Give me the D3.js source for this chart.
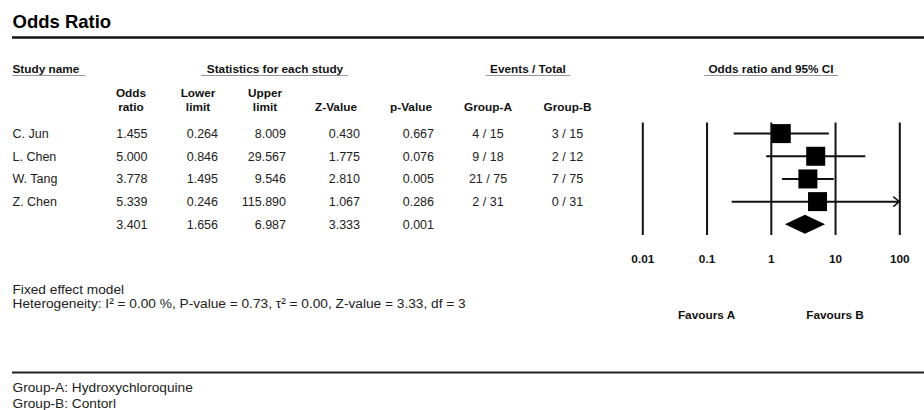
<!DOCTYPE html>
<html>
<head>
<meta charset="utf-8">
<script src="https://cdn.jsdelivr.net/npm/d3@7"></script>
<style>
  body { margin: 0; background: #fff; }
  svg { font-family: "Liberation Sans", Arial, sans-serif; display: block; }
  .hd { font-weight: bold; font-size: 11.8px; fill: #111; }
  .cell { font-size: 12.5px; fill: #222; }
  .note { font-size: 13.7px; fill: #222; }
</style>
</head>
<body>
<div id="chart"></div>
<script>
// study level data
const studies = ["C. Jun", "L. Chen", "W. Tang", "Z. Chen"];
const oddsRatio = [1.455, 5.000, 3.778, 5.339];
const lowerLimit = [0.264, 0.846, 1.495, 0.246];
const upperLimit = [8.009, 29.567, 9.546, 115.890];
const zValue = [0.430, 1.775, 2.810, 1.067];
const pValue = [0.667, 0.076, 0.005, 0.286];
const eventsA = [4, 9, 21, 2];
const totalA = [15, 18, 75, 31];
const eventsB = [3, 2, 7, 0];
const totalB = [15, 12, 75, 31];

// pooled (fixed effect) result
const pooled = [3.401, 1.656, 6.987, 3.333, 0.001]; // OR, lower, upper, Z, p

const tickValues = [0.01, 0.1, 1, 10, 100];
const tickLabels = ["0.01", "0.1", "1", "10", "100"];

function drawForest() {
  const width = 924, height = 410;
  const svg = d3.select("#chart").append("svg")
    .attr("width", width)
    .attr("height", height);

  //Title and rules
  svg.append("text")
    .attr("x", 12.5).attr("y", 28)
    .style("font-weight", "bold").style("font-size", "18.5px")
    .text("Odds Ratio");
  svg.append("line")
    .attr("x1", 12).attr("x2", width).attr("y1", 37.5).attr("y2", 37.5)
    .attr("stroke", "#111").attr("stroke-width", 2.5);
  svg.append("line")
    .attr("x1", 12).attr("x2", width).attr("y1", 372.5).attr("y2", 372.5)
    .attr("stroke", "#222").attr("stroke-width", 2);

  //Group headers with underline
  const groups = [
    {t: "Study name", x: 12.5, anchor: "start", u: [12, 85]},
    {t: "Statistics for each study", x: 275, anchor: "middle", u: [201, 348]},
    {t: "Events / Total", x: 528, anchor: "middle", u: [486, 570]},
    {t: "Odds ratio and 95% CI", x: 771, anchor: "middle", u: [704, 838]}
  ];
  groups.forEach(g => {
    svg.append("text").attr("class", "hd")
      .attr("x", g.x).attr("y", 72.5)
      .attr("text-anchor", g.anchor)
      .text(g.t);
    svg.append("line")
      .attr("x1", g.u[0]).attr("x2", g.u[1])
      .attr("y1", 75.5).attr("y2", 75.5)
      .attr("stroke", "#999").attr("stroke-width", 1);
  });

  //Column headers
  const colHeads = [
    {l: ["Odds", "ratio"], x: 131},
    {l: ["Lower", "limit"], x: 198},
    {l: ["Upper", "limit"], x: 265},
    {l: ["Z-Value"], x: 336},
    {l: ["p-Value"], x: 411},
    {l: ["Group-A"], x: 488},
    {l: ["Group-B"], x: 567.5}
  ];
  colHeads.forEach(c => {
    const text = svg.append("text").attr("class", "hd")
      .attr("text-anchor", "middle");
    c.l.forEach((s, i) => {
      text.append("tspan")
        .attr("x", c.x)
        .attr("y", 110.7 - (c.l.length - 1 - i) * 14)
        .text(s);
    });
  });

  //Rows
  const nRows = studies.length + 1;
  const y = d3.scaleLinear().domain([0, nRows - 1]).range([133.6, 224.3]);
  const fmt = d3.format(".3f");

  const rows = studies.map((s, i) => ({
    name: s, or: oddsRatio[i], lo: lowerLimit[i], hi: upperLimit[i],
    z: zValue[i], p: pValue[i],
    a: eventsA[i] + " / " + totalA[i], b: eventsB[i] + " / " + totalB[i]
  }));
  const summary = {name: "", or: pooled[0], lo: pooled[1], hi: pooled[2],
    z: pooled[3], p: pooled[4], a: "", b: ""};
  const allRows = rows.concat([summary]);

  const numCols = [
    {k: "or", x: 147.5}, {k: "lo", x: 218}, {k: "hi", x: 286},
    {k: "z", x: 360}, {k: "p", x: 434}
  ];

  const row = svg.selectAll("g.row")
    .data(allRows)
    .enter().append("g")
    .attr("class", "row")
    .attr("transform", (d, i) => "translate(0," + y(i) + ")");

  row.append("text").attr("class", "cell")
    .attr("x", 12.5).attr("dy", "0.35em")
    .text(d => d.name);

  numCols.forEach(c => {
    row.append("text").attr("class", "cell")
      .attr("x", c.x).attr("dy", "0.35em")
      .attr("text-anchor", "end")
      .text(d => fmt(d[c.k]));
  });

  row.append("text").attr("class", "cell")
    .attr("x", 488).attr("dy", "0.35em").attr("text-anchor", "middle")
    .text(d => d.a);
  row.append("text").attr("class", "cell")
    .attr("x", 567.5).attr("dy", "0.35em").attr("text-anchor", "middle")
    .text(d => d.b);

  //Forest plot
  const x = d3.scaleLog().domain([0.01, 100]).range([642.3, 899.3]);
  const yTop = 122.5, yBot = 235;

  const axis = d3.axisBottom(x)
    .tickValues(tickValues)
    .tickFormat((d, i) => tickLabels[i])
    .tickSizeInner(-(yBot - yTop))
    .tickSizeOuter(0)
    .tickPadding(20);

  const ax = svg.append("g")
    .attr("transform", "translate(0," + yBot + ")")
    .call(axis);
  ax.select(".domain").remove();
  ax.selectAll(".tick line").attr("stroke", "#111").attr("stroke-width", 2);
  ax.selectAll(".tick text")
    .attr("fill", "#111")
    .style("font-family", "'Liberation Sans', Arial, sans-serif")
    .style("font-weight", "bold").style("font-size", "11.8px");

  const xMax = x.domain()[1];
  const sq = 19;

  rows.forEach((d, i) => {
    const yy = y(i);
    const hiC = Math.min(d.hi, xMax);
    svg.append("line")
      .attr("x1", x(d.lo)).attr("x2", x(hiC))
      .attr("y1", yy).attr("y2", yy)
      .attr("stroke", "#111").attr("stroke-width", 2);
    if (d.hi > xMax) {
      const ex = x(xMax);
      svg.append("path")
        .attr("d", `M${ex - 6},${yy - 5}L${ex},${yy}L${ex - 6},${yy + 5}`)
        .attr("fill", "none").attr("stroke", "#111").attr("stroke-width", 1.5);
    }
    svg.append("rect")
      .attr("x", x(d.or) - sq / 2).attr("y", yy - sq / 2)
      .attr("width", sq).attr("height", sq)
      .attr("fill", "#000");
  });

  //Diamond for pooled estimate
  const yd = y(nRows - 1);
  svg.append("path")
    .attr("d", `M${x(summary.lo)},${yd}L${x(summary.or)},${yd - 9.5}L${x(summary.hi)},${yd}L${x(summary.or)},${yd + 9.5}Z`)
    .attr("fill", "#000");

  //Favours labels
  svg.append("text").attr("class", "hd")
    .attr("x", x(0.1)).attr("y", 315).attr("dy", "0.35em")
    .attr("text-anchor", "middle").text("Favours A");
  svg.append("text").attr("class", "hd")
    .attr("x", x(10)).attr("y", 315).attr("dy", "0.35em")
    .attr("text-anchor", "middle").text("Favours B");

  //Footer notes
  const notes = [
    {t: "Fixed effect model", y: 289.5},
    {t: "Heterogeneity: I\u00B2 = 0.00 %, P-value = 0.73, \u03C4\u00B2 = 0.00, Z-value = 3.33, df = 3", y: 303.3},
    {t: "Group-A: Hydroxychloroquine", y: 387.7},
    {t: "Group-B: Contorl", y: 403.3}
  ];
  notes.forEach(n => {
    svg.append("text").attr("class", "note")
      .attr("x", 12.5).attr("y", n.y).attr("dy", "0.35em")
      .text(n.t);
  });
}

drawForest();
</script>
</body>
</html>
